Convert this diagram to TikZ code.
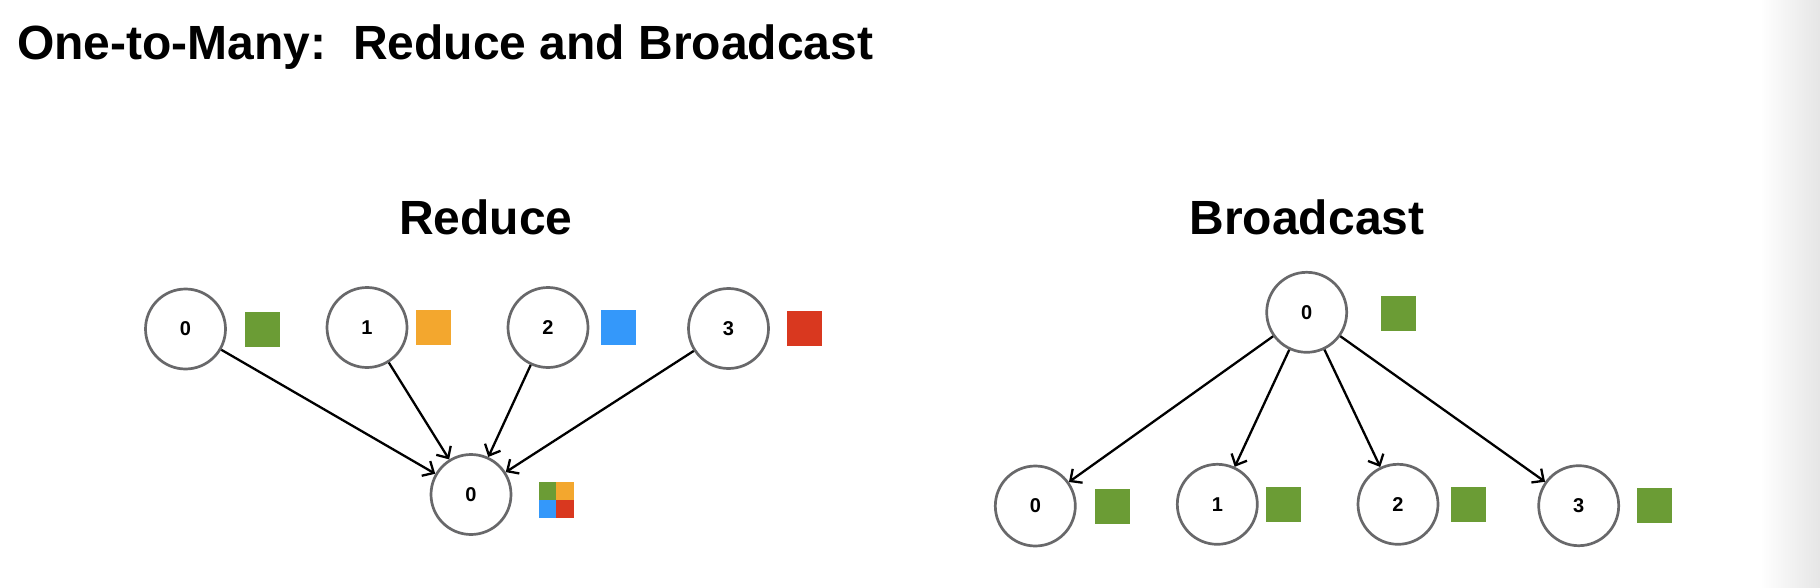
\documentclass[tikz,border=0pt]{standalone}
\usepackage{fontspec}
\setmainfont{Liberation Sans}
\usetikzlibrary{arrows.meta}
\definecolor{cgreen}{RGB}{107,156,53}
\definecolor{corange}{RGB}{243,167,46}
\definecolor{cblue}{RGB}{52,152,250}
\definecolor{cred}{RGB}{217,56,31}
\definecolor{cring}{RGB}{104,104,106}
\tikzset{
  proc/.style={circle, draw=cring, line width=2.7pt, minimum size=80pt, inner sep=0pt, fill=white,
    font=\bfseries\fontsize{20}{24}\selectfont},
  blk/.style={rectangle, minimum size=35pt, inner sep=0pt, draw=none},
  qblk/.style={rectangle, minimum size=17.7pt, inner sep=0pt, draw=none},
  arr/.style={line width=2.3pt, -{Straight Barb[length=9pt, width=17pt, line width=2.3pt]}, shorten >=0pt},
  heading/.style={font=\bfseries\fontsize{48}{56}\selectfont, inner sep=0pt}
}
\begin{document}
\begin{tikzpicture}[x=1pt, y=-1pt]
\useasboundingbox (0,0) rectangle (1820,588);
\fill[white] (0,0) rectangle (1820,588);
\shade[left color=white, right color=black!10, draw=none] (1760,0) rectangle (1820,588);

\node[heading, anchor=base west] (title) at (17,60) {One-to-Many:\ \ Reduce and Broadcast};
\node[heading, anchor=base] (treduce) at (486,234.5) {Reduce};
\node[heading, anchor=base] (tbcast) at (1307,234.5) {Broadcast};

% Reduce
\node[proc] (r0) at (185.5,329) {0};
\node[proc] (r1) at (367,327.5) {1};
\node[proc] (r2) at (548,327.5) {2};
\node[proc] (r3) at (728.5,328.5) {3};
\node[proc] (rd) at (471,494.5) {0};
\node[blk, fill=cgreen] (sr0) at (262.2,329.2) {};
\node[blk, fill=corange] (sr1) at (433,327.5) {};
\node[blk, fill=cblue] (sr2) at (618.7,327) {};
\node[blk, fill=cred] (sr3) at (804.3,328.6) {};
\node[qblk, fill=cgreen] (q1) at (547.55,491.15) {};
\node[qblk, fill=corange] (q2) at (565.25,491.15) {};
\node[qblk, fill=cblue] (q3) at (547.55,508.85) {};
\node[qblk, fill=cred] (q4) at (565.25,508.85) {};
\draw[arr] (r0) -- (rd);
\draw[arr] (r1) -- (rd);
\draw[arr] (r2) -- (rd);
\draw[arr] (r3) -- (rd);

% Broadcast
\node[proc] (b) at (1306.7,312.3) {0};
\node[blk, fill=cgreen] (sb) at (1398,313) {};
\node[proc] (b0) at (1035.3,506) {0};
\node[proc] (b1) at (1217.3,504.3) {1};
\node[proc] (b2) at (1398,504.3) {2};
\node[proc] (b3) at (1578.7,505.7) {3};
\node[blk, fill=cgreen] (sb0) at (1112.3,506.5) {};
\node[blk, fill=cgreen] (sb1) at (1283,504.5) {};
\node[blk, fill=cgreen] (sb2) at (1468.7,504.3) {};
\node[blk, fill=cgreen] (sb3) at (1654.3,505.7) {};
\draw[arr] (b) -- (b0);
\draw[arr] (b) -- (b1);
\draw[arr] (b) -- (b2);
\draw[arr] (b) -- (b3);
\end{tikzpicture}
\end{document}
